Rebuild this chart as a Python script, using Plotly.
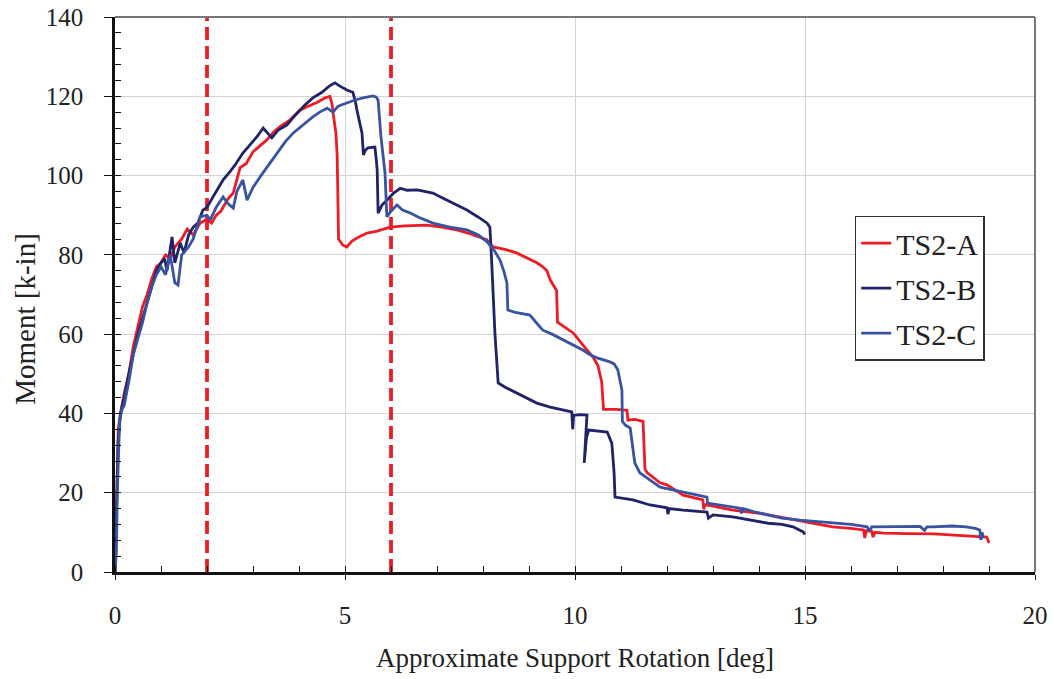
import plotly.graph_objects as go

# ---------------- data ----------------
a_x = [0, 0.02, 0.04, 0.07, 0.12, 0.2, 0.3, 0.4, 0.5, 0.6, 0.7, 0.8, 0.9, 1.0, 1.1, 1.2, 1.3, 1.45, 1.57, 1.7,
       1.85, 2.0, 2.1, 2.2, 2.3, 2.45, 2.57, 2.65, 2.72, 2.85, 3.0, 3.15, 3.3, 3.45, 3.6, 3.8, 4.02, 4.2, 4.4, 4.55,
       4.67, 4.72, 4.74, 4.8, 4.83, 4.86, 4.95, 5.04, 5.15, 5.3, 5.48, 5.7, 5.98, 6.3, 6.78, 7.1, 7.43, 7.75, 8.08, 8.22,
       8.5, 8.73, 8.95, 9.17, 9.3, 9.39, 9.46, 9.55, 9.6, 9.62, 9.75, 9.96, 10.17, 10.39, 10.5, 10.54, 10.58, 10.62, 10.9, 11.13,
       11.15, 11.3, 11.48, 11.52, 11.57, 11.85, 12.0, 12.35, 12.78, 12.8, 12.82, 13.0, 13.43, 14.02, 14.6, 15.04, 15.6, 16.0, 16.27, 16.3,
       16.33, 16.45, 16.48, 16.52, 16.7, 17.2, 17.8, 18.5, 18.95, 18.98, 19.0]
a_y = [0, 10, 25, 36, 40, 45, 50, 57, 62, 67, 70, 74, 77, 78, 80, 79, 82, 84, 86.5, 85,
       88, 89, 88, 90, 91, 94, 95.6, 99, 102, 103, 106, 107.5, 109, 111, 112.5, 114, 116.5, 117.5, 118.5, 119.5,
       120, 118, 115.8, 111, 105, 84, 82.5, 82, 83.5, 84.5, 85.5, 86, 87, 87.3, 87.5, 87, 86.3, 85.2, 83.8, 82,
       81.3, 80.5, 79.3, 78, 77, 76, 73.7, 72, 71, 63, 62, 60.3, 57.3, 54.2, 52, 50.2, 48, 41, 41, 40.8,
       38.3, 38.5, 38, 26, 25, 22.5, 22, 19.4, 18.2, 15.8, 17, 16.6, 15.6, 14.8, 13.6, 12.6, 11.4, 11, 10.6, 8.6,
       10.4, 10.3, 8.8, 10, 9.8, 9.7, 9.6, 9.1, 8.8, 8, 7.3]

b_x = [0, 0.02, 0.04, 0.07, 0.12, 0.2, 0.3, 0.4, 0.5, 0.6, 0.7, 0.8, 0.9, 1.0, 1.08, 1.13, 1.2, 1.24, 1.3, 1.35,
       1.42, 1.5, 1.6, 1.7, 1.8, 1.91, 2.0, 2.15, 2.35, 2.5, 2.6, 2.78, 2.95, 3.1, 3.22, 3.3, 3.41, 3.55, 3.74, 3.9,
       4.1, 4.3, 4.5, 4.65, 4.78, 4.9, 5.04, 5.17, 5.22, 5.26, 5.32, 5.37, 5.4, 5.45, 5.5, 5.65, 5.68, 5.7, 5.72, 5.8,
       5.91, 6.05, 6.2, 6.35, 6.57, 6.91, 7.1, 7.28, 7.45, 7.65, 7.9, 8.09, 8.15, 8.17, 8.19, 8.26, 8.33, 8.5, 8.73, 8.95,
       9.17, 9.46, 9.7, 9.89, 9.93, 9.95, 9.97, 10.1, 10.26, 10.2, 10.25, 10.3, 10.7, 10.8, 10.85, 10.87, 11.26, 11.63, 12.0, 12.02,
       12.05, 12.35, 12.87, 12.9, 13.0, 13.43, 13.8, 14.2, 14.5, 14.74, 14.96, 15.0]
b_y = [0, 8, 20, 33, 40, 44, 50, 55, 60, 64, 68, 72, 76, 78, 79, 76, 81, 84.5, 78, 80,
       83, 80.5, 85, 87, 88, 91.3, 92, 95, 98.9, 101, 102.5, 105.7, 108, 110, 112, 111, 109.5, 111.5, 112.8, 115,
       117.5, 119.6, 121, 122.5, 123.4, 122.5, 121.6, 121, 119, 116.5, 113, 110.7, 105.2, 106.5, 107, 107.2, 104, 101.4, 90.5, 92.5,
       93.8, 95.5, 96.8, 96.3, 96.4, 95.6, 94.5, 93.4, 92.5, 91.3, 89.5, 88, 87, 80, 78, 60, 47.7, 46.5, 45.2, 44,
       42.6, 41.6, 41, 40.4, 40.4, 36, 39.5, 39.7, 39.6, 27.5, 34, 35.8, 35.3, 32.5, 25, 18.9, 18.2, 16.9, 16.2, 14.6,
       16, 15.6, 15.1, 13.6, 14.4, 13.9, 13.2, 12.3, 12, 11.4, 10.1, 9.5]

c_x = [0, 0.03, 0.05, 0.08, 0.1, 0.15, 0.2, 0.3, 0.4, 0.5, 0.6, 0.7, 0.8, 0.9, 1.0, 1.1, 1.2, 1.3, 1.37, 1.45,
       1.6, 1.7, 1.85, 2.0, 2.07, 2.2, 2.35, 2.45, 2.57, 2.65, 2.78, 2.87, 3.0, 3.15, 3.3, 3.52, 3.7, 3.87, 4.1, 4.3,
       4.45, 4.61, 4.74, 4.85, 5.04, 5.2, 5.39, 5.5, 5.61, 5.68, 5.72, 5.78, 5.87, 5.91, 6.0, 6.13, 6.25, 6.41, 6.6, 6.91,
       7.28, 7.65, 7.9, 8.09, 8.25, 8.37, 8.45, 8.52, 8.54, 8.7, 9.02, 9.15, 9.3, 9.5, 9.67, 9.9, 10.17, 10.3, 10.48, 10.76,
       10.85, 10.93, 10.98, 11.02, 11.03, 11.1, 11.2, 11.25, 11.3, 11.41, 11.6, 11.85, 12.1, 12.35, 12.6, 12.87, 12.88, 13.2, 13.59, 13.62,
       13.65, 13.9, 14.17, 14.5, 14.89, 15.2, 15.6, 16.0, 16.35, 16.4, 16.45, 17.07, 17.5, 17.6, 17.65, 17.78, 18.2, 18.5, 18.7, 18.8,
       18.82, 18.85, 18.88]
c_y = [0, 5, 20, 35, 38, 41, 42, 48, 55, 59, 63, 68, 72, 75, 77, 75, 80, 73, 72.4, 80,
       82, 84, 89.6, 90, 88.8, 92, 94.6, 93, 91.8, 96, 98.9, 93.8, 97, 99.6, 102, 105.7, 108.5, 110.7, 113, 114.8,
       116, 117, 116, 117.5, 118.3, 119, 119.6, 119.8, 120.1, 119.8, 119, 110, 100.6, 89.6, 91, 92.6, 91.3, 90.6, 89.5, 88,
       87, 86.3, 85, 83.3, 81, 78.7, 76, 72.9, 66.1, 65.5, 64.8, 63, 61, 60, 59, 57.5, 56, 55, 54, 53,
       52.5, 51, 48, 45.9, 38, 37, 36.3, 32, 27.5, 25, 23.5, 21.4, 20.8, 20.2, 19.5, 18.9, 17.4, 16.8, 16.1, 14.8,
       16, 15.2, 14.4, 13.6, 13.1, 12.8, 12.4, 12, 11.4, 10.3, 11.4, 11.4, 11.5, 10.5, 11.4, 11.4, 11.6, 11.4, 11, 10.6,
       8.1, 10, 8.5]

series_names = ["TS2-A", "TS2-B", "TS2-C"]
series_colors = ["#ED1C24", "#1F2368", "#3953A4"]
limit_rotations = [2, 6]

x_ticks = [0, 5, 10, 15, 20]
y_ticks = [0, 20, 40, 60, 80, 100, 120, 140]

# ---------------- figure ----------------
FONT = "Liberation Serif, Times New Roman, serif"
fig = go.Figure()

for xr in limit_rotations:
    fig.add_trace(go.Scatter(x=[xr, xr], y=[0, 140], mode="lines", showlegend=False,
                             line=dict(color="#EE1C25", width=3.8, dash="13px,6px"), hoverinfo="skip"))

for name, xs, ys, col in zip(series_names, [a_x, b_x, c_x], [a_y, b_y, c_y], series_colors):
    fig.add_trace(go.Scatter(x=xs, y=ys, mode="lines", name=name, legendgroup=name,
                             line=dict(color=col, width=2.8)))

fig.update_layout(
    width=1054, height=679,
    margin=dict(l=115, r=19, t=17, b=107, autoexpand=False),
    paper_bgcolor="white", plot_bgcolor="white",
    font=dict(family=FONT, size=25, color="#222222"),
    showlegend=True,
    legend=dict(x=0.804, y=0.642, xanchor="left", yanchor="top",
                bordercolor="#333333", borderwidth=1.5, bgcolor="white",
                font=dict(family=FONT, size=30, color="#222222"),
                itemwidth=30, tracegroupgap=3),
    xaxis=dict(range=[0, 20], tickvals=x_ticks, showgrid=True, gridcolor="#D3D3D3", gridwidth=1.2,
               zeroline=False, showline=True, linecolor="#111111", linewidth=2.5, automargin=False,
               ticks="outside", ticklen=5, tickcolor="#111111", tickwidth=1.2,
               minor=dict(dtick=1, ticks="inside", ticklen=6, tickcolor="#111111", tickwidth=1, showgrid=False),
               ticklabelstandoff=14, tickfont=dict(size=25),
               title=dict(text="Approximate Support Rotation [deg]", font=dict(size=27), standoff=21)),
    yaxis=dict(range=[0, 140], tickvals=y_ticks, showgrid=True, gridcolor="#D3D3D3", gridwidth=1.2,
               zeroline=False, showline=True, linecolor="#111111", linewidth=2.5, automargin=False,
               ticks="outside", ticklen=8, tickcolor="#111111", tickwidth=1.2,
               minor=dict(dtick=4, ticks="inside", ticklen=6, tickcolor="#111111", tickwidth=1, showgrid=False),
               ticklabelstandoff=16, tickfont=dict(size=25)),
    annotations=[dict(text="Moment [k-in]", xref="paper", yref="paper", x=-0.098, y=0.456,
                      xanchor="center", yanchor="middle", textangle=-90, showarrow=False,
                      font=dict(family=FONT, size=29, color="#222222"))],
)

# top and right frame lines of the plot area
fig.add_shape(type="line", xref="paper", yref="paper", x0=0, x1=1, y0=1, y1=1,
              line=dict(color="#777777", width=2))
fig.add_shape(type="line", xref="paper", yref="paper", x0=1, x1=1, y0=0, y1=1,
              line=dict(color="#777777", width=2))

fig.write_html("out.html", config={"displayModeBar": False},
               post_script="document.body.style.margin='0';document.body.style.overflow='hidden';")
